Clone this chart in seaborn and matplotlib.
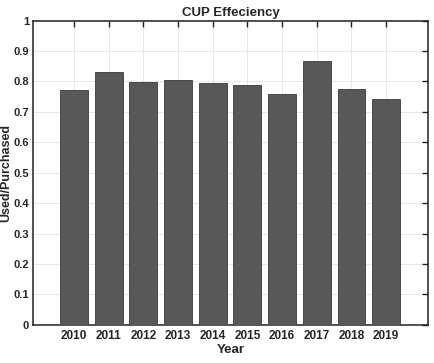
import pandas as pd
import matplotlib
matplotlib.use("Agg")
import matplotlib.pyplot as plt
import seaborn as sns

years = ["2010", "2011", "2012", "2013", "2014", "2015", "2016", "2017", "2018", "2019"]
efficiency = [0.771, 0.832, 0.799, 0.803, 0.794, 0.789, 0.757, 0.866, 0.776, 0.741]
yticks = [0, 0.1, 0.2, 0.3, 0.4, 0.5, 0.6, 0.7, 0.8, 0.9, 1]
ytick_labels = ["0", "0.1", "0.2", "0.3", "0.4", "0.5", "0.6", "0.7", "0.8", "0.9", "1"]

df = pd.DataFrame({"Year": years, "Efficiency": efficiency})

sns.set_style("white")
plt.rcParams["font.family"] = ["Liberation Sans", "DejaVu Sans"]

fig = plt.figure(figsize=(4.35, 3.63), dpi=100)
ax = fig.add_axes([0.076, 0.105, 0.908, 0.8385])

sns.barplot(x="Year", y="Efficiency", data=df, color="#585858", width=0.8,
            edgecolor="#3a3a3a", linewidth=0.6, saturation=1, ax=ax, zorder=3)

ax.set_xlim(-1.18, 10.21)
ax.set_ylim(0, 1)
ax.set_yticks(yticks)
ax.set_yticklabels(ytick_labels)
ax.grid(True, color="#e4e4e4", linewidth=0.6, zorder=0)
ax.set_axisbelow(True)
ax.tick_params(direction="in", length=4, width=1, top=True, right=True,
               labelsize=8, pad=3, color="#222222")
ax.tick_params(axis="x", labelsize=8.5, pad=4)
for lab in ax.get_xticklabels() + ax.get_yticklabels():
    lab.set_fontweight("bold")
for s in ax.spines.values():
    s.set_linewidth(1.1)
    s.set_color("#222222")

ax.set_xlabel("Year", fontsize=9.5, fontweight="bold", labelpad=1)
ax.set_ylabel("Used/Purchased", fontsize=9, fontweight="bold")
ax.yaxis.set_label_coords(-0.052, 0.5)
ax.set_title("CUP Effeciency", fontsize=9.5, fontweight="bold", pad=3)

fig.savefig("out.png", dpi=100)
